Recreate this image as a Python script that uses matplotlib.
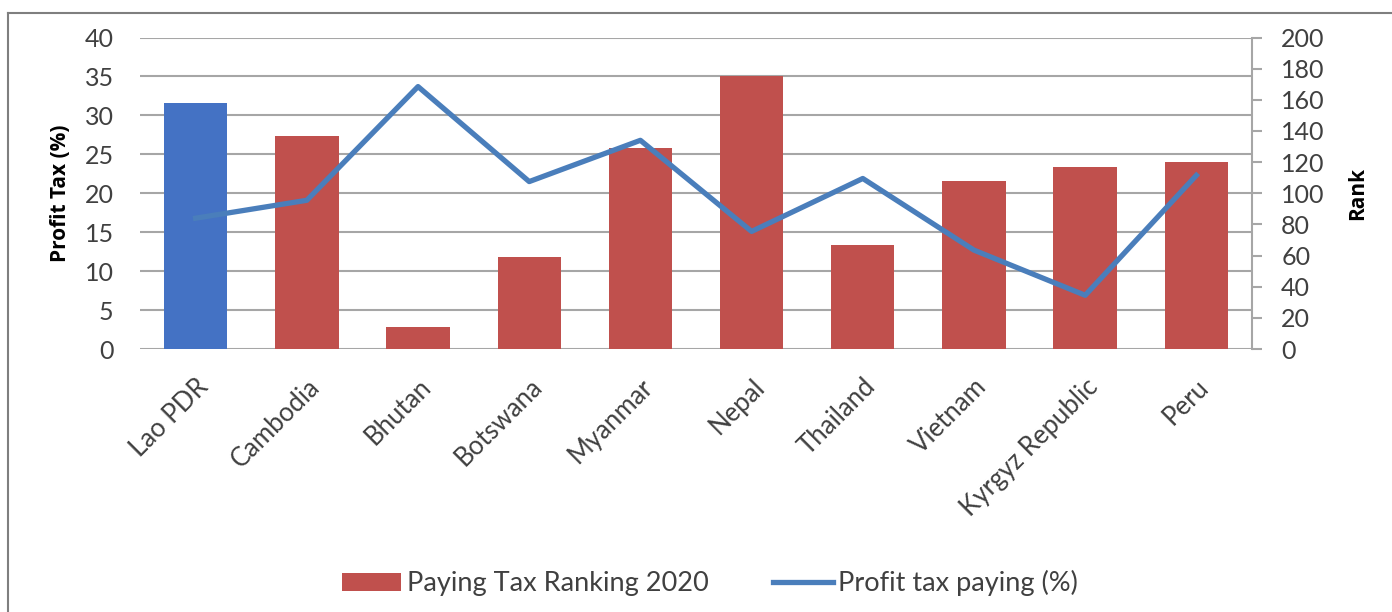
import numpy as np
from matplotlib import pyplot as plt
from matplotlib.lines import Line2D
from matplotlib.patches import Patch

# 数据
countries = ['Lao PDR', 'Cambodia', 'Bhutan', 'Botswana', 'Myanmar', 'Nepal',
             'Thailand', 'Vietnam', 'Kyrgyz Republic', 'Peru']
rank_2020 = [158, 137, 14, 59, 129, 175, 67, 108, 117, 120]
profit_tax = [16.8, 19.1, 33.7, 21.5, 26.8, 15.1, 21.9, 12.7, 6.9, 22.3]

red = '#C0504D'
blue_bar = '#4472C4'
blue_line = '#4A7EBB'
grid_c = '#A6A6A6'
txt_c = '#404040'

plt.rcParams['font.family'] = ['Lato', 'DejaVu Sans']
bold_font = dict(family=['Open Sans', 'DejaVu Sans'], fontweight='bold', fontsize=15)

fig = plt.figure(figsize=(13.92, 6.12), dpi=100)
ax = fig.add_axes([0.1006, 0.4297, 0.7988, 0.509])
x = np.arange(len(countries))

# 左轴: 利润税(%)，网格线
ax.set_ylim(0, 40)
ax.set_xlim(-0.5, len(countries) - 0.5)
ax.set_yticks(np.arange(0, 41, 5))
ax.yaxis.grid(True, color=grid_c, linewidth=1.5)
ax.set_axisbelow(True)
for s in ['top', 'right', 'left', 'bottom']:
    ax.spines[s].set_visible(False)
ax.tick_params(axis='y', length=0, pad=19, labelsize=18, labelcolor=txt_c)
ax.set_xticks(x)
ax.set_xticklabels(countries, rotation=45, ha='right', rotation_mode='anchor')
ax.tick_params(axis='x', length=0, pad=18, labelsize=18.5, labelcolor=txt_c)
ax.set_ylabel('Profit Tax (%)', labelpad=10, **bold_font)

# 右轴: 排名 (柱状图)
ax2 = ax.twinx()
ax2.set_ylim(0, 200)
ax2.set_yticks(np.arange(0, 201, 20))
colors = [blue_bar] + [red] * (len(countries) - 1)
ax2.bar(x, rank_2020, width=0.57, color=colors)
for s in ['top', 'left', 'bottom']:
    ax2.spines[s].set_visible(False)
ax2.spines['right'].set_color(grid_c)
ax2.spines['right'].set_linewidth(1.5)
ax2.tick_params(axis='y', direction='out', length=7, width=1.5, color=grid_c,
                pad=14, labelsize=18, labelcolor=txt_c)
ax2.set_ylabel('Rank', labelpad=16, **bold_font)

# 折线 (利润税 %)
ax3 = ax.twinx()
ax3.set_ylim(0, 40)
ax3.plot(x, profit_tax, color=blue_line, linewidth=3.8)
ax3.axis('off')

# 图例
handles = [Patch(facecolor=red), Line2D([0], [0], color=blue_line, linewidth=3.8)]
fig.legend(handles, ['Paying Tax Ranking 2020', 'Profit tax paying (%)'],
           loc='center', bbox_to_anchor=(0.51, 0.047), ncol=2, frameon=False,
           fontsize=19.5, handlelength=2.2, handleheight=0.65, handletextpad=0.2,
           columnspacing=2.4, labelcolor=txt_c)

# 外框
fig.add_artist(Line2D([8 / 1392, 8 / 1392], [0, 1 - 13 / 612], color='#7F7F7F', linewidth=1.5))
fig.add_artist(Line2D([8 / 1392, 1], [1 - 13 / 612, 1 - 13 / 612], color='#7F7F7F', linewidth=1.5))

plt.savefig('out.png', dpi=100)
